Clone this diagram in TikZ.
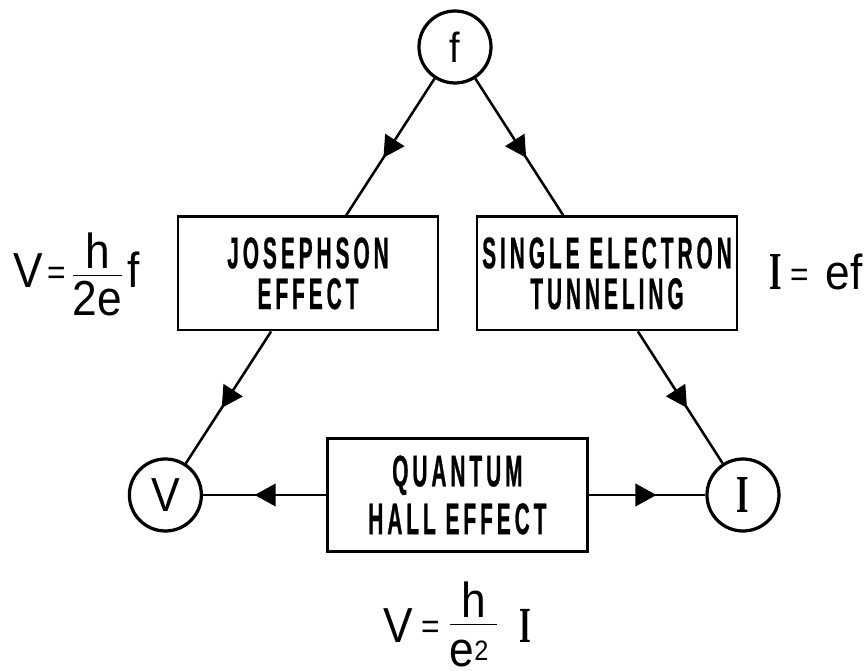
\RequirePackage{fix-cm}
\documentclass[tikz,border=0pt]{standalone}
\usepackage{fontspec}
\setmainfont{Liberation Sans}
\newfontfamily\boxfont[FakeStretch=0.47,LetterSpace=9,FakeBold=0.6]{Liberation Sans}
\newfontfamily\eqfont[FakeStretch=0.9]{Liberation Sans}
\newfontfamily\curfont[FakeStretch=0.6]{Liberation Serif Bold}
\newcommand\eqsign{\raisebox{2.5pt}{\fontsize{25}{25}\selectfont=}}
\usetikzlibrary{positioning,arrows.meta,decorations.markings}

\begin{document}
\begin{tikzpicture}[
  circ/.style={draw,circle,line width=2.3pt,minimum size=1.8cm,inner sep=0pt},
  box/.style={draw,line width=2.1pt,minimum width=6.5cm,minimum height=2.83cm,inner sep=0pt,
              align=center,font={\boxfont\fontsize{31.5}{29}\selectfont\bfseries}},
  eqn/.style={inner sep=0pt,font={\eqfont\fontsize{35}{40}\selectfont}},
  arr/.style={line width=1.8pt,postaction={decorate},
              decoration={markings,mark=at position 0.58 with {\arrow{Triangle[length=15pt,width=16pt]}}}},
]
\useasboundingbox (-11.375,-8.4) rectangle (10.325,8.375);

% Quantities
\node[circ] (f) at (0,7.2) {\eqfont\fontsize{30}{30}\selectfont f};
\node[circ] (V) at (-7.24,-4.0) {\eqfont\fontsize{34}{34}\selectfont V};
\node[circ] (I) at (7.2,-4.0) {\curfont\fontsize{38}{38}\selectfont I};

% Effects
\node[box] (JOS) at (-3.675,1.54) {JOSEPHSON\\EFFECT};
\node[box] (SET) at (3.8,1.54) {SINGLE ELECTRON\\TUNNELING};
\node[box] (QHE) at (0.06,-4.0) {QUANTUM\\[5pt]HALL EFFECT};

% Relations
\node[eqn,anchor=base west] (eqJ) at (-11.05,1.175)
  {V\hspace{3pt}\eqsign\hspace{4pt}$\frac{\mbox{h}}{\mbox{\rule{0pt}{0.8em}2e}}$\hspace{3pt}f};
\node[eqn,anchor=base west] (eqS) at (7.85,1.125)
  {{\curfont\fontsize{38}{38}\selectfont I}\hspace{6pt}\eqsign\hspace{12pt}ef};
\node[eqn,below=0.7cm of QHE] (eqQ)
  {V\hspace{6pt}\eqsign\hspace{6pt}\raisebox{4pt}{$\frac{\mbox{h}}{\mbox{\rule{0pt}{0.85em}e\raisebox{4.5pt}{\fontsize{20}{20}\selectfont 2}\hspace{6pt}}}$}\hspace{15pt}{\curfont\fontsize{36}{36}\selectfont I}};

% Edge crossings
\coordinate (jt) at (intersection of f.center--V.center and JOS.north west--JOS.north east);
\coordinate (jb) at (intersection of f.center--V.center and JOS.south west--JOS.south east);
\coordinate (st) at (intersection of f.center--I.center and SET.north west--SET.north east);
\coordinate (sb) at (intersection of f.center--I.center and SET.south west--SET.south east);

% Arrows
\draw[arr] (f) -- (jt);
\draw[arr] (jb) -- (V);
\draw[arr] (f) -- (st);
\draw[arr] (sb) -- (I);
\draw[arr] (QHE) -- (V);
\draw[arr] (QHE) -- (I);

\end{tikzpicture}
\end{document}
